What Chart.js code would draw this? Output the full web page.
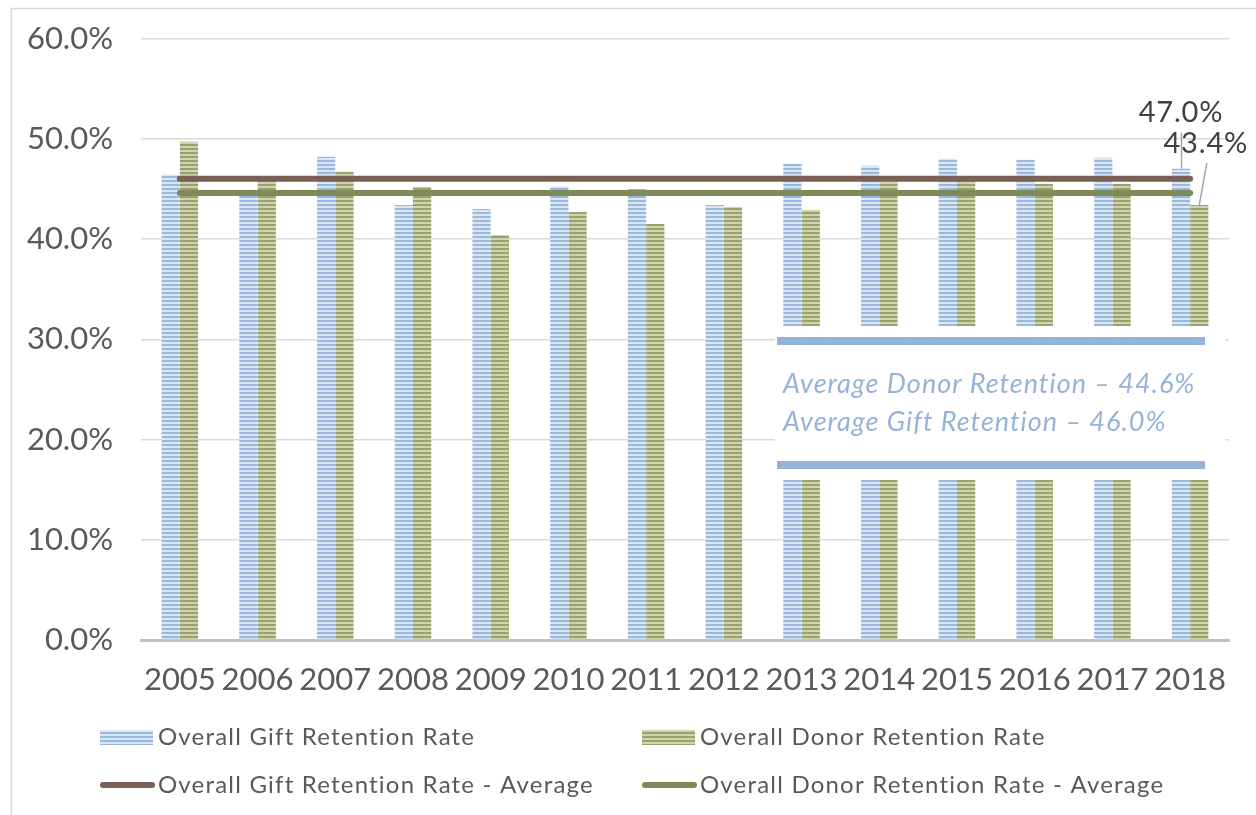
<!DOCTYPE html>
<html>
<head>
<meta charset="utf-8">
<script src="https://cdn.jsdelivr.net/npm/chart.js@4/dist/chart.umd.min.js"></script>
<style>
  body { margin: 0; background: #fff; }
  #wrap { position: relative; width: 1256px; height: 815px; }
</style>
</head>
<body>
<div id="wrap"><canvas id="myChart"></canvas></div>
<script>
// datos
const years = ['2005', '2006', '2007', '2008', '2009', '2010', '2011', '2012', '2013', '2014', '2015', '2016', '2017', '2018'];
const giftRate = [46.4, 44.6, 48.2, 43.4, 43.0, 45.2, 45.0, 43.4, 47.5, 47.3, 48.0, 47.9, 48.1, 47.0];
const donorRate = [49.7, 45.9, 46.7, 45.2, 40.4, 42.7, 41.5, 43.2, 42.9, 45.7, 45.8, 45.5, 45.5, 43.4];
const giftAverage = [46.0, 46.0, 46.0, 46.0, 46.0, 46.0, 46.0, 46.0, 46.0, 46.0, 46.0, 46.0, 46.0, 46.0];
const donorAverage = [44.6, 44.6, 44.6, 44.6, 44.6, 44.6, 44.6, 44.6, 44.6, 44.6, 44.6, 44.6, 44.6, 44.6];
const yTicks = [0, 10, 20, 30, 40, 50, 60];
const noteLines = ['Average Donor Retention \u2013 44.6%', 'Average Gift Retention \u2013 46.0%'];

const FONT = 'Lato, "Noto Sans", sans-serif';
const TEXT = '#595959';

// patron de rayas horizontales para las barras
function stripes(dark, light) {
    var c = document.createElement('canvas');
    c.width = 4; c.height = 4;
    var g = c.getContext('2d');
    g.fillStyle = light; g.fillRect(0, 0, 4, 4);
    g.fillStyle = dark; g.fillRect(0, 0, 4, 2);
    return g.createPattern(c, 'repeat');
}
const bluePat = stripes('#98B9DD', '#D9E6F3');
const greenPat = stripes('#9AA26B', '#CFD3B0');

const legendItems = [
    { text: 'Overall Gift Retention Rate', fill: bluePat, x: 100, y: 737 },
    { text: 'Overall Donor Retention Rate', fill: greenPat, x: 642, y: 737 },
    { text: 'Overall Gift Retention Rate - Average', line: '#7A6057', x: 100, y: 785 },
    { text: 'Overall Donor Retention Rate - Average', line: '#7F8A59', x: 642, y: 785 }
];

const extras = {
    id: 'extras',
    beforeDraw(chart) {
        const c = chart.ctx;
        c.save();
        c.strokeStyle = '#D9D9D9';
        c.lineWidth = 1.5;
        c.strokeRect(11.5, 8.5, 1300, 900);
        c.restore();
    },
    afterDatasetsDraw(chart) {
        const c = chart.ctx;
        c.save();
        // cuadro de texto blanco encima de las barras
        c.fillStyle = '#fff';
        c.fillRect(775, 326, 450, 154);
        c.fillStyle = '#95B3D7';
        c.fillRect(777, 337, 428, 8);
        c.fillRect(777, 461, 428, 8);
        c.font = 'italic 27px ' + FONT;
        c.letterSpacing = '1px';
        c.textBaseline = 'middle';
        c.textAlign = 'left';
        c.fillText(noteLines[0], 783, 384);
        c.fillText(noteLines[1], 783, 422);

        // etiquetas de 2018 con lineas guia
        const b1 = chart.getDatasetMeta(0).data[13];
        const b2 = chart.getDatasetMeta(1).data[13];
        c.strokeStyle = '#A6A6A6';
        c.lineWidth = 1.5;
        c.beginPath();
        c.moveTo(b1.x + 0.5, 133); c.lineTo(b1.x + 0.5, b1.y);
        c.moveTo(b2.x + 7.5, 163); c.lineTo(b2.x, b2.y);
        c.stroke();
        c.fillStyle = '#404040';
        c.font = '29px ' + FONT;
        c.letterSpacing = '0.8px';
        c.textAlign = 'center';
        c.fillText(giftRate[13].toFixed(1) + '%', b1.x, 113);
        c.fillText(donorRate[13].toFixed(1) + '%', b2.x + 6.5, 144);
        c.restore();
    },
    afterDraw(chart) {
        const c = chart.ctx;
        c.save();
        c.font = '24px ' + FONT;
        c.letterSpacing = '1.2px';
        c.textBaseline = 'middle';
        legendItems.forEach(function(it) {
            if (it.fill) {
                c.fillStyle = it.fill;
                c.fillRect(it.x, it.y - 7, 53, 15);
            } else {
                c.strokeStyle = it.line;
                c.lineWidth = 6;
                c.lineCap = 'round';
                c.beginPath();
                c.moveTo(it.x + 3, it.y);
                c.lineTo(it.x + 52, it.y);
                c.stroke();
            }
            c.fillStyle = TEXT;
            c.fillText(it.text, it.x + 58, it.y);
        });
        c.restore();
    }
};

const ctx = document.getElementById('myChart').getContext('2d');
const myChart = new Chart(ctx, {
    data: {
        labels: years,
        datasets: [
            {
                type: 'bar',
                label: 'Overall Gift Retention Rate',
                data: giftRate,
                backgroundColor: bluePat,
                borderWidth: 0,
                categoryPercentage: 0.47,
                barPercentage: 1.0,
                order: 2
            },
            {
                type: 'bar',
                label: 'Overall Donor Retention Rate',
                data: donorRate,
                backgroundColor: greenPat,
                borderWidth: 0,
                categoryPercentage: 0.47,
                barPercentage: 1.0,
                order: 2
            },
            {
                type: 'line',
                label: 'Overall Gift Retention Rate - Average',
                data: giftAverage,
                borderColor: '#7A6057',
                borderWidth: 6,
                borderCapStyle: 'round',
                pointRadius: 0,
                fill: false,
                order: 1
            },
            {
                type: 'line',
                label: 'Overall Donor Retention Rate - Average',
                data: donorAverage,
                borderColor: '#7F8A59',
                borderWidth: 6,
                borderCapStyle: 'round',
                pointRadius: 0,
                fill: false,
                order: 1
            }
        ]
    },
    options: {
        responsive: true,
        maintainAspectRatio: false,
        animation: false,
        layout: { padding: { left: 0, right: 27, top: 38.5, bottom: 115 } },
        plugins: {
            legend: { display: false },
            tooltip: { enabled: false }
        },
        scales: {
            x: {
                grid: { display: false, drawTicks: false },
                border: { display: true, color: '#BFBFBF', width: 3 },
                ticks: { color: TEXT, font: { family: FONT, size: 31 }, padding: 21, maxRotation: 0 },
                afterFit: function(s) { s.height = 60; s.paddingLeft = 0; s.paddingRight = 0; }
            },
            y: {
                min: 0,
                max: 60,
                afterBuildTicks: function(s) { s.ticks = yTicks.map(function(v) { return { value: v }; }); },
                grid: { color: '#D9D9D9', lineWidth: 1.5, drawTicks: false },
                border: { display: false },
                ticks: {
                    color: TEXT,
                    font: { family: FONT, size: 31 },
                    padding: 28,
                    callback: function(v) { return Number(v).toFixed(1) + '%'; }
                },
                afterFit: function(s) { s.width = 141; s.paddingTop = 0; s.paddingBottom = 0; }
            }
        }
    },
    plugins: [extras]
});
</script>
</body>
</html>
